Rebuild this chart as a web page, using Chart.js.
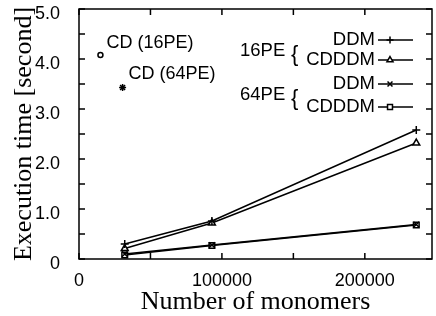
<!DOCTYPE html>
<html>
<head>
<meta charset="utf-8">
<script src="https://cdn.jsdelivr.net/npm/chart.js@4.4.0/dist/chart.umd.min.js"></script>
<style>
    html, body { margin: 0; padding: 0; background: #fff; }
    #wrap { width: 436px; height: 316px; }
</style>
</head>
<body>
<div id="wrap"><canvas id="chartCanvas" width="436" height="316"></canvas></div>
<script>
// data
const monomers = [32000, 93000, 236000];
const ddm16 = [0.30, 0.76, 2.58];
const cdddm16 = [0.21, 0.72, 2.32];
const ddm64 = [0.10, 0.28, 0.69];
const cdddm64 = [0.08, 0.27, 0.68];

const cdNames = ["CD (16PE)", "CD (64PE)"];
const cdX = [15000, 30500];
const cdY = [4.08, 3.43];

const xTicks = [0, 50000, 100000, 150000, 200000];
const xTickLabels = ["0", "", "100000", "", "200000"];
const yTicks = [0, 0.5, 1, 1.5, 2, 2.5, 3, 3.5, 4, 4.5, 5];
const yTickLabels = ["0", "", "1.0", "", "2.0", "", "3.0", "", "4.0", "", "5.0"];

const SANS = "'Liberation Sans', Arial, sans-serif";
const SERIF = "'Liberation Serif', 'Times New Roman', serif";

function toPoints(xs, ys) {
    return xs.map((x, i) => ({ x: x, y: ys[i] }));
}

function series(label, ys, style, group) {
    return {
        label: label,
        group: group,
        data: toPoints(monomers, ys),
        showLine: true,
        borderColor: "#000",
        borderWidth: 1.5,
        pointStyle: style,
        pointRadius: 4,
        pointBorderWidth: 1.5,
        pointBorderColor: "#000",
        pointBackgroundColor: "#fff"
    };
}

const datasets = [
    series("DDM", ddm16, "cross", "16PE"),
    series("CDDDM", cdddm16, "triangle", "16PE"),
    series("DDM", ddm64, "crossRot", "64PE"),
    series("CDDDM", cdddm64, "rect", "64PE"),
    {
        label: cdNames[0],
        data: [{ x: cdX[0], y: cdY[0] }],
        showLine: false,
        pointStyle: "circle",
        pointRadius: 2.5,
        pointBorderWidth: 1.5,
        pointBorderColor: "#000",
        pointBackgroundColor: "#fff"
    },
    {
        label: cdNames[1],
        data: [{ x: cdX[1], y: cdY[1] }],
        showLine: false,
        pointStyle: "star",
        pointRadius: 3.5,
        pointBorderWidth: 1.5,
        pointBorderColor: "#000",
        pointBackgroundColor: "#000"
    }
];

// frame, inward ticks, legend and CD labels
const decorPlugin = {
    id: "decor",
    afterDatasetsDraw(chart) {
        const { ctx, chartArea: a, scales: { x, y } } = chart;
        ctx.save();
        ctx.strokeStyle = "#000";
        ctx.lineWidth = 1.5;
        ctx.strokeRect(a.left, a.top, a.right - a.left, a.bottom - a.top);

        ctx.beginPath();
        x.ticks.forEach(t => {
            const px = x.getPixelForValue(t.value);
            ctx.moveTo(px, a.bottom); ctx.lineTo(px, a.bottom - 6);
            ctx.moveTo(px, a.top); ctx.lineTo(px, a.top + 6);
        });
        y.ticks.forEach(t => {
            const py = y.getPixelForValue(t.value);
            ctx.moveTo(a.left, py); ctx.lineTo(a.left + 6, py);
            ctx.moveTo(a.right, py); ctx.lineTo(a.right - 6, py);
        });
        ctx.stroke();

        // CD labels
        ctx.fillStyle = "#000";
        ctx.font = "18px " + SANS;
        ctx.textBaseline = "middle";
        ctx.textAlign = "left";
        const offY = [-12, -13];
        for (let i = 0; i < cdNames.length; i++) {
            const px = x.getPixelForValue(cdX[i]);
            const py = y.getPixelForValue(cdY[i]);
            ctx.fillText(cdNames[i], px + 6, py + offY[i]);
        }

        // legend
        const rows = [40, 60, 84, 107];
        for (let i = 0; i < 4; i++) {
            const ds = chart.data.datasets[i];
            const ly = rows[i];
            ctx.textAlign = "right";
            ctx.font = "18.5px " + SANS;
            ctx.fillText(ds.label, 375, ly);
            ctx.beginPath();
            ctx.lineWidth = 1.5;
            ctx.moveTo(378, ly); ctx.lineTo(413, ly);
            ctx.stroke();
            ctx.fillStyle = "#fff";
            Chart.helpers.drawPoint(ctx, {
                pointStyle: ds.pointStyle, radius: 3.5, borderWidth: 1.5, rotation: 0
            }, 390, ly);
            ctx.fillStyle = "#000";
        }
        ctx.textAlign = "left";
        ctx.font = "18.5px " + SANS;
        ctx.fillText("16PE", 240, 51);
        ctx.fillText("64PE", 240, 95);
        ctx.font = "22px " + SANS;
        ctx.fillText("{", 291, 55);
        ctx.fillText("{", 291, 99);
        ctx.restore();
    }
};

const ctx = document.getElementById("chartCanvas").getContext("2d");

new Chart(ctx, {
    type: "scatter",
    data: { datasets: datasets },
    options: {
        responsive: false,
        animation: false,
        devicePixelRatio: 1,
        layout: { autoPadding: false, padding: { top: 9, right: 4, left: 0, bottom: 0 } },
        plugins: { legend: { display: false }, tooltip: { enabled: false } },
        scales: {
            x: {
                type: "linear",
                min: 0,
                max: 247000,
                afterBuildTicks: s => { s.ticks = xTicks.map(v => ({ value: v })); },
                afterFit: s => { s.height = 57; s.paddingLeft = 0; s.paddingRight = 0; },
                grid: { display: false },
                border: { display: false },
                ticks: {
                    callback: (v, i) => xTickLabels[i],
                    color: "#000",
                    font: { family: SANS, size: 18 },
                    padding: 3,
                    maxRotation: 0,
                    autoSkip: false
                },
                title: {
                    display: true,
                    text: "Number of monomers",
                    color: "#000",
                    font: { family: SERIF, size: 26 },
                    padding: { top: 0, bottom: -2 }
                }
            },
            y: {
                type: "linear",
                min: 0,
                max: 5,
                afterBuildTicks: s => { s.ticks = yTicks.map(v => ({ value: v })); },
                afterFit: s => { s.width = 79; s.paddingTop = 0; s.paddingBottom = 0; },
                grid: { display: false },
                border: { display: false },
                ticks: {
                    callback: (v, i) => yTickLabels[i],
                    color: "#000",
                    font: { family: SANS, size: 18 },
                    padding: 11,
                    labelOffset: 5,
                    autoSkip: false
                },
                title: {
                    display: true,
                    text: "Execution time [second]",
                    color: "#000",
                    font: { family: SERIF, size: 26 },
                    padding: { top: 9, bottom: 0 }
                }
            }
        }
    },
    plugins: [decorPlugin]
});
</script>
</body>
</html>
